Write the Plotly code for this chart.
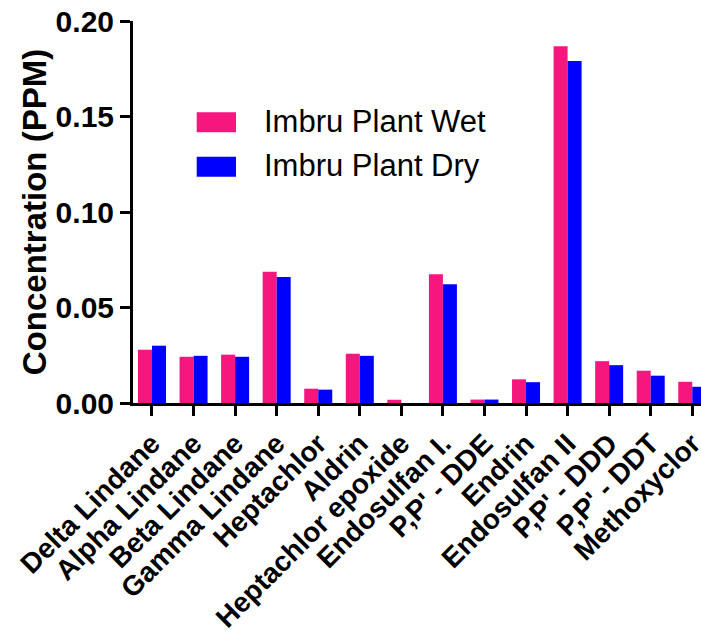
import plotly.graph_objects as go

categories = ["Delta Lindane", "Alpha Lindane", "Beta Lindane", "Gamma Lindane",
              "Heptachlor", "Aldrin", "Heptachlor epoxide", "Endosulfan I.",
              "P,P' - DDE", "Endrin", "Endosulfan II", "P,P' - DDD",
              "P,P' - DDT", "Methoxyclor"]
wet = [0.0279, 0.0242, 0.0253, 0.0687, 0.0075, 0.0258, 0.0017, 0.0674,
       0.0018, 0.0124, 0.1868, 0.0219, 0.0169, 0.0111]
dry = [0.0300, 0.0247, 0.0242, 0.0660, 0.0070, 0.0247, 0.0, 0.0622,
       0.0018, 0.0109, 0.1790, 0.0198, 0.0143, 0.0085]
series_names = ["Imbru Plant Wet", "Imbru Plant Dry"]
y_ticks = [0.0, 0.05, 0.10, 0.15, 0.20]
y_ticklabels = ["0.00", "0.05", "0.10", "0.15", "0.20"]

PINK = "#F5167E"
BLUE = "#0000FF"
FONT = "Liberation Sans, Arial, sans-serif"

W, H = 701, 636
ml, mr, mt, mb = 133, 0, 21, 233
pw, ph = W - ml - mr, H - mt - mb

def px2paper(x, y):
    return (x - ml) / pw, (H - mb - y) / ph

fig = go.Figure()
fig.add_trace(go.Bar(x=list(range(len(categories))), y=wet, name=series_names[0],
                     marker=dict(color=PINK, line=dict(width=0)), showlegend=False,
                     cliponaxis=True))
fig.add_trace(go.Bar(x=list(range(len(categories))), y=dry, name=series_names[1],
                     marker=dict(color=BLUE, line=dict(width=0)), showlegend=False,
                     cliponaxis=True))

# legend drawn manually (large swatches)
for i, (name, col) in enumerate(zip(series_names, [PINK, BLUE])):
    y0 = 112.3 + i * 44.4
    x0p, y0p = px2paper(196.7, y0)
    x1p, y1p = px2paper(236.0, y0 + 20)
    fig.add_shape(type="rect", xref="paper", yref="paper", x0=x0p, x1=x1p,
                  y0=y1p, y1=y0p, fillcolor=col, line=dict(width=0))
    tx, ty = px2paper(261.5, y0 + 9)
    fig.add_annotation(xref="paper", yref="paper", x=tx, y=ty, text=name,
                       showarrow=False, xanchor="left", yanchor="middle",
                       font=dict(family=FONT, size=31, color="black"))

fig.update_layout(
    width=W, height=H,
    margin=dict(l=ml, r=mr, t=mt, b=mb, pad=0, autoexpand=False),
    paper_bgcolor="white", plot_bgcolor="white",
    barmode="group", bargap=0.326, bargroupgap=0,
    showlegend=False,
    font=dict(family=FONT, color="black"),
)
fig.update_xaxes(
    type="linear", automargin=False, ticklabeloverflow="allow",
    range=[-0.457, 13.21],
    tickmode="array", tickvals=list(range(len(categories))), ticktext=categories,
    tickangle=-45,
    tickfont=dict(family=FONT, size=28, color="black", weight="bold"),
    ticks="outside", ticklen=10, tickwidth=3, tickcolor="black",
    showline=True, linecolor="black", linewidth=3,
    showgrid=False, zeroline=False,
)
fig.update_yaxes(
    automargin=False,
    range=[0, 0.2],
    tickmode="array", tickvals=y_ticks, ticktext=y_ticklabels,
    tickfont=dict(family=FONT, size=30, color="black", weight="bold"),
    ticks="outside", ticklen=10, tickwidth=2.5, tickcolor="black",
    showline=True, linecolor="black", linewidth=3,
    showgrid=False, zeroline=False,
    title=dict(text="Concentration (PPM)", standoff=0,
               font=dict(family=FONT, size=33, color="black", weight="bold")),
)

fig.write_html("out.html", config={"displayModeBar": False},
               post_script="document.body.style.margin='0px';document.body.style.overflow='hidden';")
